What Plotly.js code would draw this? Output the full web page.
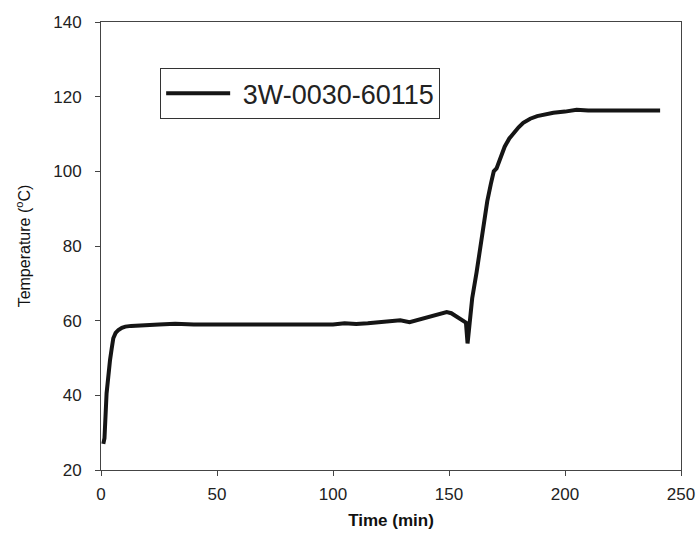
<!DOCTYPE html>
<html>
<head>
<meta charset="utf-8">
<script src="https://cdn.plot.ly/plotly-3.0.1.min.js"></script>
<style>
  html, body { margin: 0; padding: 0; background: #fff; }
  #temp_graph { width: 698px; height: 533px; }
</style>
</head>
<body>
<div id="temp_graph"></div>
<script>
// temperature log of sample 3W-0030-60115
var time_min = [1, 1.5, 2.4, 3.2, 3.9, 4.6, 5.3, 6.3, 7.5, 9, 10.5, 13, 16, 19, 25, 32, 40, 49,
  60, 70, 80, 90, 100, 105, 110, 115, 120, 125, 129, 133, 136, 139, 143, 147, 149, 151, 153,
  155, 157.3, 158, 158.7, 160, 161.9, 163.5, 165, 166.5, 168, 169.3, 170.5, 172, 174, 176,
  178, 180, 182, 185, 188, 191, 195, 200, 205, 210, 220, 230, 241];
var temp_c = [27, 28.5, 40.5, 46, 49.5, 52.5, 55.3, 56.7, 57.5, 58.1, 58.4, 58.6, 58.8, 58.8,
  59, 59.2, 59, 58.9, 59, 59, 59, 59, 59, 59.3, 59.1, 59.3, 59.5, 59.7, 60.1, 59.6, 60.1,
  60.6, 61.2, 62, 62.3, 62, 61.2, 60.4, 59.5, 53.9, 58.8, 66, 73, 80, 86.5, 92, 96.5, 100,
  100.8, 103.5, 106.6, 108.8, 110.4, 111.8, 113, 114.1, 114.8, 115.3, 115.7, 116, 116.5,
  116.3, 116.3, 116.3, 116.3];

var series_name = '3W-0030-60115';
var x_ticks = [0, 50, 100, 150, 200, 250];
var y_ticks = [20, 40, 60, 80, 100, 120, 140];

var sample_trace = {
  x: time_min,
  y: temp_c,
  type: 'scatter',
  mode: 'lines',
  name: '&nbsp;' + series_name,
  line: { color: '#151515', width: 4 }
};

var font_face = '"Liberation Sans", Arial, sans-serif';

var layout = {
  width: 698,
  height: 533,
  margin: { l: 101, r: 17, t: 22, b: 63 },
  paper_bgcolor: '#fff',
  plot_bgcolor: '#fff',
  font: { family: font_face, color: '#222', size: 17 },
  showlegend: true,
  legend: {
    x: 0.102, y: 0.897, xanchor: 'left', yanchor: 'top',
    bgcolor: '#fff', bordercolor: '#333', borderwidth: 1,
    font: { size: 27, color: '#222' },
    itemwidth: 64
  },
  xaxis: {
    range: [0, 250],
    tickvals: x_ticks,
    ticks: 'outside', ticklen: 5, tickcolor: '#444',
    ticklabelstandoff: 4,
    showline: true, linecolor: '#444', linewidth: 1, mirror: true,
    showgrid: false, zeroline: false,
    tickfont: { size: 17 },
    title: { text: '<b>Time (min)</b>', font: { size: 17, color: '#111' }, standoff: 10 }
  },
  yaxis: {
    range: [20, 140],
    tickvals: y_ticks,
    ticks: 'outside', ticklen: 5, tickcolor: '#444',
    ticklabelstandoff: 10,
    showline: true, linecolor: '#444', linewidth: 1, mirror: true,
    showgrid: false, zeroline: false,
    tickfont: { size: 17 },
    title: { text: 'Temperature (<sup>o</sup>C)', font: { size: 16, color: '#111' }, standoff: 18 }
  }
};

Plotly.newPlot('temp_graph', [sample_trace], layout, { staticPlot: true });
</script>
</body>
</html>
